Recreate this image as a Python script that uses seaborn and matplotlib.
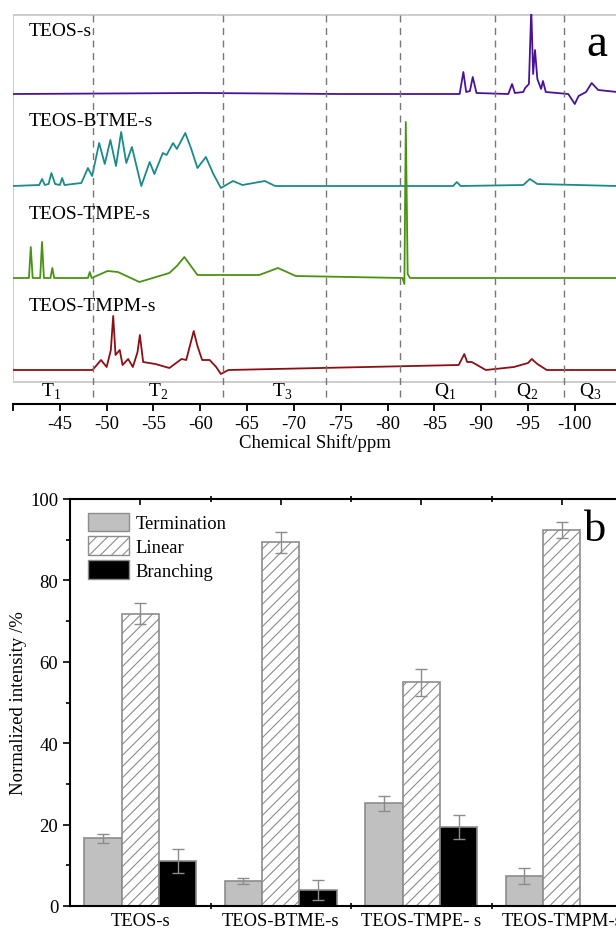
import matplotlib
matplotlib.use("Agg")
import matplotlib.pyplot as plt
import numpy as np
import pandas as pd
import seaborn as sns
from matplotlib.patches import Patch, Rectangle
from matplotlib.ticker import MultipleLocator, FixedLocator

# --- panel a: 29Si NMR traces (peaks only, no noise)
teos_ppm = [-40, -60, -75, -87.7, -88.1, -88.4, -88.8, -89.1, -89.5, -92.9, -93.3, -93.6, -94.5, -94.7, -95.1,
            -95.35, -95.55, -95.75, -96.0, -96.4, -96.6, -96.9, -99.3, -100.0, -100.4, -101.2, -101.8, -102.5, -104.5]
teos_int = [0, 1, 0, 0, 22, 2, 3, 17, 1, 0, 10, 1, 2, 6, 10, 85, 20, 44, 15, 5, 13, 2, 0, -10, -2, 2, 11, 4, 2]

btme_ppm = [-40, -42.8, -43.1, -43.4, -43.8, -44.1, -44.5, -45.0, -45.25, -45.5, -47.3, -48.0, -48.45, -49.2,
            -49.8, -50.4, -51.0, -51.55, -52.1, -52.7, -53.7, -54.6, -55.1, -56.0, -56.4, -57.1, -57.5, -58.4,
            -59.0, -59.7, -60.6, -61.4, -62.2, -63.5, -64.5, -66.9, -68.0, -87.0, -87.4, -87.8, -94.5, -95.2,
            -96.0, -104.5]
btme_int = [0, 1, 7, 1, 2, 13, 2, 1, 8, 1, 3, 18, 10, 43, 22, 46, 20, 54, 23, 39, 0, 24, 12, 33, 31, 43, 37, 53,
            38, 18, 29, 12, -2, 5, 1, 5, 0, 0, 4, 0, 1, 7, 2, 0]

tmpe_ppm = [-40, -41.7, -41.9, -42.1, -42.9, -43.1, -43.3, -44.0, -44.2, -44.4, -48.0, -48.2, -48.4, -50.1,
            -51.2, -53.5, -56.7, -57.5, -58.3, -59.0, -59.7, -66.3, -68.3, -70.2, -81.6, -81.8, -81.95, -82.15,
            -82.4, -104.5]
tmpe_int = [0, 0, 31, 0, 0, 36, 0, 0, 10, 0, 0, 6, 0, 7, 6, -4, 5, 12, 21, 12, 3, 3, 10, 2, 0, -6, 156, 4, 0, 0]

tmpm_ppm = [-40, -48.5, -49.4, -50.0, -50.45, -50.7, -50.95, -51.4, -51.7, -52.3, -52.8, -53.3, -53.55, -53.9,
            -55.2, -56.7, -58.0, -58.5, -59.3, -59.7, -60.2, -61.0, -61.7, -62.2, -63.0, -87.6, -88.2, -88.5,
            -89.0, -90.5, -93.5, -95.0, -95.4, -96.0, -97.0, -104.5]
tmpm_int = [0, 0, 10, 3, 20, 54, 15, 20, 5, 11, 3, 18, 35, 8, 6, 2, 11, 10, 39, 24, 10, 10, 3, -4, 0, 5, 16, 8,
            8, 0, 3, 7, 11, 6, 0, 0]

trace_names = ["TEOS-s", "TEOS-BTME-s", "TEOS-TMPE-s", "TEOS-TMPM-s"]
region_names = [r"T$_1$", r"T$_2$", r"T$_3$", r"Q$_1$", r"Q$_2$", r"Q$_3$"]
region_ppm = [-44.1, -55.5, -68.7, -86.1, -94.9, -101.6]
divider_ppm = [-48.5, -62.4, -73.4, -81.3, -91.5, -98.8]

# --- panel b: normalized intensities
samples = ["TEOS-s", "TEOS-BTME-s", "TEOS-TMPE- s", "TEOS-TMPM-s"]
kinds = ["Termination", "Linear", "Branching"]
termination = [16.6, 6.2, 25.2, 7.4]
termination_err = [1.2, 0.8, 1.9, 2.0]
linear = [71.8, 89.4, 55.0, 92.3]
linear_err = [2.6, 2.6, 3.3, 2.0]
branching = [11.1, 3.9, 19.4, 0.0]
branching_err = [3.0, 2.4, 3.0, 0.0]

sns.set_style("white")
plt.rcParams.update({
    "font.family": ["Liberation Serif", "DejaVu Serif"],
    "mathtext.fontset": "custom",
    "mathtext.rm": "Liberation Serif",
    "axes.unicode_minus": False,
    "axes.edgecolor": "black",
    "text.color": "black",
    "axes.labelcolor": "black",
    "xtick.color": "black",
    "ytick.color": "black",
    "hatch.linewidth": 0.8,
    "hatch.color": "#8c8c8c",
})

fig = plt.figure(figsize=(6.16, 9.29), dpi=100)
ax1 = fig.add_axes([13 / 616, 1 - 405 / 929, 603 / 616, 390 / 929])
ax2 = fig.add_axes([70 / 616, 22 / 929, 562 / 616, 407 / 929])

# ---------------- panel a
offsets = [310, 218, 126, 34]
colors = ["#4a1396", "#1b8a8a", "#4a9214", "#8a1015"]
label_y = [374, 283, 190, 98]
for ppm, vals, name, off, c, ly in zip([teos_ppm, btme_ppm, tmpe_ppm, tmpm_ppm],
                                        [teos_int, btme_int, tmpe_int, tmpm_int],
                                        trace_names, offsets, colors, label_y):
    sns.lineplot(x=ppm, y=np.array(vals) + off, color=c, lw=1.3, ax=ax1, estimator=None)
    ax1.text(-41.7, ly, name, fontsize=14, va="center", ha="left")

ax1.set_xlim(-40, -104.4)
ax1.set_ylim(0, 390)
for x in divider_ppm:
    ax1.axvline(x, ymin=0.018, ymax=1, color="#777777", ls=(0, (5, 4)), lw=1)
for x, t in zip(region_ppm, region_names):
    ax1.text(x, 13, t, fontsize=14, ha="center", va="center")
ax1.add_patch(Rectangle((-40.05, 22), -70, 367.5, fill=False, ec="#c8c8c8", lw=1.3))
ax1.text(-102.4, 360, "a", fontsize=34, ha="center", va="center")

for s in ["top", "right", "left"]:
    ax1.spines[s].set_visible(False)
ax1.spines["bottom"].set_linewidth(1.5)
ax1.set_xticks(list(range(-45, -101, -5)))
ax1.xaxis.set_minor_locator(FixedLocator([-40]))
ax1.tick_params(axis="x", which="both", bottom=True, direction="out", length=5, width=1.3,
                labelsize=13.5, pad=3)
ax1.set_yticks([])
ax1.set_xlabel("Chemical Shift/ppm", fontsize=13.5, labelpad=1)
ax1.set_ylabel("")

# ---------------- panel b
df = pd.DataFrame({
    "sample": samples * 3,
    "kind": [k for k in kinds for _ in samples],
    "value": termination + linear + branching,
})
sns.barplot(data=df, x="sample", y="value", hue="kind", hue_order=kinds,
            palette=["#c0c0c0", "white", "black"], saturation=1, edgecolor="#8c8c8c",
            linewidth=1.2, errorbar=None, legend=False, ax=ax2)

for bar in ax2.containers[1]:
    bar.set_hatch("///")
    bar.set_facecolor("white")

for cont, errs in zip(ax2.containers, [termination_err, linear_err, branching_err]):
    for bar, e in zip(cont, errs):
        if e > 0:
            ax2.errorbar(bar.get_x() + bar.get_width() / 2, bar.get_height(), yerr=e,
                         color="#8c8c8c", capsize=4, lw=1, capthick=1)

handles = [Patch(fc="#c0c0c0", ec="#8c8c8c"),
           Patch(fc="white", ec="#8c8c8c", hatch="///"),
           Patch(fc="black", ec="#8c8c8c")]
ax2.legend(handles, kinds, loc="upper left", bbox_to_anchor=(0.032, 0.966), frameon=False,
           borderpad=0, borderaxespad=0, handlelength=2.2, handleheight=1.15,
           labelspacing=0.22, handletextpad=0.35, fontsize=13.4)

ax2.set_xlim(-0.5, 3.5)
ax2.set_ylim(0, 100)
ax2.yaxis.set_major_locator(MultipleLocator(20))
ax2.yaxis.set_minor_locator(MultipleLocator(10))
ax2.xaxis.set_minor_locator(FixedLocator([0.5, 1.5, 2.5]))
ax2.tick_params(axis="y", which="both", left=True, direction="out", labelsize=13.5, width=1.2)
ax2.tick_params(axis="y", which="major", length=5)
ax2.tick_params(axis="y", which="minor", length=3)
ax2.tick_params(axis="x", which="major", bottom=True, top=True, direction="in", length=4,
                width=1.2, labelsize=13.4, pad=4)
ax2.tick_params(axis="x", which="minor", bottom=True, top=True, direction="inout", length=5,
                width=1.2)
ax2.spines["right"].set_visible(False)
for s in ["left", "top", "bottom"]:
    ax2.spines[s].set_linewidth(1.5)
ax2.set_xlabel("")
ax2.set_ylabel("Normalized intensity /%", fontsize=13.5, labelpad=2)
ax2.text(3.236, 92.6, "b", fontsize=32, ha="center", va="center")

fig.savefig("out.png", dpi=100)
